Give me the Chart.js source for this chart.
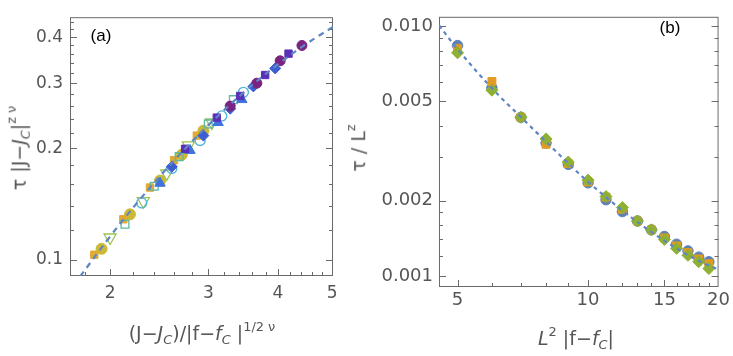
<!DOCTYPE html>
<html>
<head>
<meta charset="utf-8">
<script src="https://cdn.jsdelivr.net/npm/chart.js@4.4.0/dist/chart.umd.min.js"></script>
<style>
  body { margin: 0; background: #fff; }
  #wrap { position: relative; width: 733px; height: 356px; overflow: hidden; font-family: 'DejaVu Sans', sans-serif; color: #555; }
  canvas { position: absolute; top: 0; }
  .lbl { position: absolute; white-space: nowrap; transform: translate(-50%, -50%); }
  .rot { transform: translate(-50%, -50%) rotate(-90deg); }
  .lbl sub, .lbl sup { font-size: 0.68em; }
  .lbl sub { vertical-align: -0.3em; }
  .lbl sup { vertical-align: 0.75em; }
  .tag { color: #000; font-family: 'Liberation Sans', sans-serif; font-size: 17px; }
</style>
</head>
<body>
<div id="wrap">
  <canvas id="ca" width="366" height="356" style="left:0;width:366px;height:356px"></canvas>
  <canvas id="cb" width="367" height="356" style="left:366px;width:367px;height:356px"></canvas>
  <div class="lbl" style="left:202px;top:333px;font-size:19px">(J&minus;<i>J</i><sub><i>C</i></sub>)/|f&minus;<i>f</i><sub><i>C</i></sub> |<sup>1/2 &nu;</sup></div>
  <div class="lbl rot" style="left:18px;top:148px;font-size:19px">&tau; |J&minus;<i>J</i><sub><i>C</i></sub>|<sup>z &nu;</sup></div>
  <div class="lbl" style="left:576px;top:338px;font-size:19px"><i>L</i><sup>2</sup> |f&minus;<i>f</i><sub><i>C</i></sub>|</div>
  <div class="lbl rot" style="left:356px;top:148px;font-size:19px">&tau; / L<sup>z</sup></div>
  <div class="lbl tag" style="left:101px;top:36px">(a)</div>
  <div class="lbl tag" style="left:670px;top:28px">(b)</div>
</div>
<script>
// ---- panel (a): scaling collapse ----
var aFitX = [1.766, 2.0, 2.25, 2.5, 2.75, 3.0, 3.5, 4.0, 4.5, 5.02];
var aFitY = [0.0899, 0.1155, 0.1441, 0.1732, 0.2023, 0.2312, 0.2866, 0.3377, 0.3838, 0.4263];

var aYellowCircX = [1.931, 2.171, 2.458, 2.689, 2.940];
var aYellowCircY = [0.1070, 0.1326, 0.1637, 0.1923, 0.2233];
var aGoldSqX = [1.874, 2.112, 2.358, 2.604, 2.861];
var aGoldSqY = [0.1031, 0.1286, 0.1567, 0.1858, 0.2166];
var aGreenTriX = [2.000, 2.294, 2.527, 2.764, 3.044];
var aGreenTriY = [0.1148, 0.1439, 0.1712, 0.2037, 0.2350];
var aTealSqX = [2.127, 2.40, 2.66, 3.00, 3.327];
var aTealSqY = [0.1247, 0.158, 0.190, 0.233, 0.271];
var aCyanCircX = [2.279, 2.580, 2.900, 3.172, 3.468];
var aCyanCircY = [0.1424, 0.1765, 0.2101, 0.2448, 0.2837];
var aBlueTriX = [2.458, 2.782, 3.124, 3.446];
var aBlueTriY = [0.1610, 0.1975, 0.2350, 0.2711];
var aBlueDiaX = [2.580, 2.940, 3.284, 3.614, 3.954];
var aBlueDiaY = [0.1783, 0.2166, 0.2561, 0.2943, 0.3293];
var aIndigoSqX = [2.726, 3.107, 3.421, 3.794, 4.178];
var aIndigoSqY = [0.1995, 0.2423, 0.2773, 0.3160, 0.3610];
var aPurpleCircX = [3.284, 3.666, 4.036, 4.416];
var aPurpleCircY = [0.2603, 0.3003, 0.3452, 0.3798];

var aXMajor = [2, 3, 4, 5];
var aXMinor = [1.8, 2.2, 2.4, 2.6, 2.8, 3.2, 3.4, 3.6, 3.8, 4.2, 4.4, 4.6, 4.8];
var aYMajor = [0.1, 0.2, 0.3, 0.4];
var aYMinor = [0.12, 0.14, 0.16, 0.18, 0.22, 0.24, 0.26, 0.28, 0.32, 0.34, 0.36, 0.38, 0.42, 0.44];

// ---- panel (b): tau / L^z ----
var bX = [5, 6, 7, 8, 9, 10, 11, 12, 13, 14, 15, 16, 17, 18, 19];
var bBlue = [0.00838, 0.00567, 0.00432, 0.00341, 0.00280, 0.00236, 0.00202, 0.00181, 0.00166, 0.00153, 0.00144, 0.00134, 0.00126, 0.00119, 0.00114];
var bOrange = [0.00814, 0.00601, 0.00432, 0.00337, 0.00282, 0.00238, 0.00207, 0.00185, 0.00166, 0.00153, 0.00142, 0.00132, 0.00124, 0.00117, 0.00112];
var bGreen = [0.00783, 0.00555, 0.00432, 0.00354, 0.00286, 0.00242, 0.00208, 0.00188, 0.00166, 0.00153, 0.00140, 0.00129, 0.00121, 0.00114, 0.00107];
var bFitX = [4.53, 5, 6, 7, 8, 9, 10, 12, 14, 16, 18, 20];
var bFitY = [0.0101, 0.0081, 0.00565, 0.00433, 0.00345, 0.00283, 0.00238, 0.00183, 0.00150, 0.00129, 0.00115, 0.00106];

var bXMajor = [5, 10, 15, 20];
var bXMinor = [6, 7, 8, 9, 11, 12, 13, 14, 16, 17, 18, 19];
var bYMajor = [0.001, 0.002, 0.005, 0.01];
var bYMinor = [0.0012, 0.0014, 0.0016, 0.0018, 0.003, 0.004, 0.006, 0.007, 0.008, 0.009];

function pts(xs, ys) {
  return xs.map(function (x, i) { return { x: x, y: ys[i] }; });
}

// frame with inward ticks, mathematica style
function frameTicks(xMajor, xMinor, yMajor, yMinor) {
  return {
    id: 'frameTicks',
    beforeDatasetsDraw: function (chart) {
      var ctx = chart.ctx, a = chart.chartArea, x = chart.scales.x, y = chart.scales.y;
      ctx.save();
      ctx.strokeStyle = '#6a6a6a';
      ctx.lineWidth = 1;
      ctx.setLineDash([]);
      ctx.strokeRect(a.left + 0.5, a.top + 0.5, a.right - a.left - 1, a.bottom - a.top - 1);
      ctx.beginPath();
      function xt(v, len) {
        var p = Math.round(x.getPixelForValue(v)) + 0.5;
        if (p < a.left || p > a.right) return;
        ctx.moveTo(p, a.bottom); ctx.lineTo(p, a.bottom - len);
      }
      function yt(v, len) {
        var p = Math.round(y.getPixelForValue(v)) + 0.5;
        if (p < a.top || p > a.bottom) return;
        ctx.moveTo(a.left, p); ctx.lineTo(a.left + len, p);
        ctx.moveTo(a.right, p); ctx.lineTo(a.right - len, p);
      }
      xMajor.forEach(function (v) { xt(v, 7); });
      xMinor.forEach(function (v) { xt(v, 4); });
      yMajor.forEach(function (v) { yt(v, 7); });
      yMinor.forEach(function (v) { yt(v, 4); });
      ctx.stroke();
      ctx.restore();
    }
  };
}

function logAxis(min, max, majors, fmt, font, pad, fit) {
  return {
    type: 'logarithmic',
    min: min, max: max,
    grid: { display: false, drawTicks: false },
    border: { display: false },
    afterBuildTicks: function (s) { s.ticks = majors.map(function (v) { return { value: v }; }); },
    afterFit: fit,
    ticks: {
      autoSkip: false, maxRotation: 0, padding: pad,
      color: '#555', font: { family: 'DejaVu Sans', size: font },
      callback: function (v) { return fmt(v); }
    }
  };
}

function scatterSet(data, style, order) {
  return Object.assign({ data: data, showLine: false, order: order, borderWidth: 1 }, style);
}

var fitStyle = { showLine: true, pointRadius: 0, borderColor: '#5f86c4', borderWidth: 2.2, tension: 0.4, fill: false };

new Chart(document.getElementById('ca'), {
  type: 'scatter',
  data: {
    datasets: [
      Object.assign({ data: pts(aFitX, aFitY), order: 0, borderDash: [6, 5] }, fitStyle),
      scatterSet(pts(aPurpleCircX, aPurpleCircY), { pointStyle: 'circle', pointRadius: 5, backgroundColor: '#7a2380', borderColor: '#7a2380' }, 1),
      scatterSet(pts(aIndigoSqX, aIndigoSqY), { pointStyle: 'rect', pointRadius: 5.2, backgroundColor: '#5a30b8', borderColor: '#5a30b8' }, 2),
      scatterSet(pts(aBlueDiaX, aBlueDiaY), { pointStyle: 'rectRot', pointRadius: 5.5, backgroundColor: '#3c5ed0', borderColor: '#3c5ed0' }, 3),
      scatterSet(pts(aBlueTriX, aBlueTriY), { pointStyle: 'triangle', pointRadius: 6, backgroundColor: '#3f72dc', borderColor: '#3f72dc' }, 4),
      scatterSet(pts(aCyanCircX, aCyanCircY), { pointStyle: 'circle', pointRadius: 5, backgroundColor: 'rgba(0,0,0,0)', borderColor: '#4fb3d8', borderWidth: 1.3 }, 5),
      scatterSet(pts(aTealSqX, aTealSqY), { pointStyle: 'rect', pointRadius: 5.5, backgroundColor: 'rgba(0,0,0,0)', borderColor: '#5fb8a4', borderWidth: 1.3 }, 6),
      scatterSet(pts(aGreenTriX, aGreenTriY), { pointStyle: 'triangle', rotation: 180, pointRadius: 7, backgroundColor: 'rgba(0,0,0,0)', borderColor: '#9cc450', borderWidth: 1.3 }, 7),
      scatterSet(pts(aGoldSqX, aGoldSqY), { pointStyle: 'rect', pointRadius: 5.2, backgroundColor: '#e2aa2e', borderColor: '#e2aa2e' }, 8),
      scatterSet(pts(aYellowCircX, aYellowCircY), { pointStyle: 'circle', pointRadius: 5.5, backgroundColor: '#cbb936', borderColor: '#cbb936' }, 9)
    ]
  },
  options: {
    responsive: false,
    animation: false,
    layout: { padding: { left: 0, right: 33, top: 13, bottom: 0 } },
    plugins: { legend: { display: false }, tooltip: { enabled: false } },
    scales: {
      x: logAxis(1.695, 5.02, aXMajor, function (v) { return String(v); }, 17, 7, function (s) { s.height = 80; }),
      y: logAxis(0.0903, 0.453, aYMajor, function (v) { return v.toFixed(1); }, 17, 7, function (s) { s.width = 70; })
    }
  },
  plugins: [frameTicks(aXMajor, aXMinor, aYMajor, aYMinor)]
});

new Chart(document.getElementById('cb'), {
  type: 'scatter',
  data: {
    datasets: [
      Object.assign({ data: pts(bFitX, bFitY), order: 0, borderDash: [4, 4] }, fitStyle),
      scatterSet(pts(bX, bGreen), { pointStyle: 'rectRot', pointRadius: 6, backgroundColor: '#8fb032', borderColor: '#8fb032' }, 1),
      scatterSet(pts(bX, bOrange), { pointStyle: 'rect', pointRadius: 5.6, backgroundColor: '#e19c24', borderColor: '#e19c24' }, 2),
      scatterSet(pts(bX, bBlue), { pointStyle: 'circle', pointRadius: 5.2, backgroundColor: '#5e81b5', borderColor: '#5e81b5' }, 3)
    ]
  },
  options: {
    responsive: false,
    animation: false,
    layout: { padding: { left: 0, right: 13, top: 5, bottom: 0 } },
    plugins: { legend: { display: false }, tooltip: { enabled: false } },
    scales: {
      x: logAxis(4.53, 20, bXMajor, function (v) { return String(v); }, 18, 3, function (s) { s.height = 69; }),
      y: logAxis(0.000903, 0.01092, bYMajor, function (v) { return v.toFixed(3); }, 18, 6, function (s) { s.width = 73; })
    }
  },
  plugins: [frameTicks(bXMajor, bXMinor, bYMajor, bYMinor)]
});
</script>
</body>
</html>
